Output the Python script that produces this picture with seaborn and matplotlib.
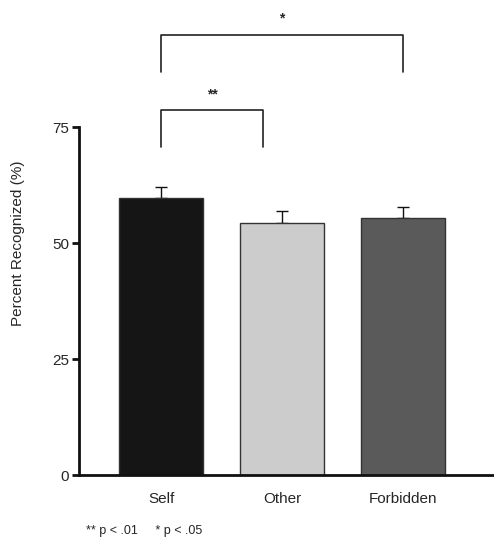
import matplotlib
matplotlib.use("Agg")
import matplotlib.pyplot as plt
import pandas as pd
import seaborn as sns

conditions = ["Self", "Other", "Forbidden"]
means = [59.8, 54.4, 55.3]
sems = [2.3, 2.4, 2.4]
bar_colors = ["#151515", "#cccccc", "#5a5a5a"]
yticks = [0, 25, 50, 75]

sns.set_theme(style="white")
plt.rcParams["font.family"] = ["Liberation Sans", "DejaVu Sans"]

df = pd.DataFrame({"condition": conditions, "mean": means})

fig = plt.figure(figsize=(4.94, 5.38), dpi=100)
ax = fig.add_axes([0.16, 0.117, 0.84, 0.8625])

sns.barplot(data=df, x="condition", y="mean", hue="condition",
            palette=bar_colors, width=0.69, edgecolor="#333333",
            linewidth=1.0, legend=False, ax=ax, errorbar=None, zorder=2)

# only the upper half of the error bars (lower cap hidden behind bar)
ax.errorbar(range(len(conditions)), means, yerr=[[0] * 3, sems],
            fmt="none", ecolor="#111111", elinewidth=1.0, capsize=4,
            capthick=1.0, zorder=1)

# significance brackets
def bracket(x0, x1, y_low, y_top, label, label_y):
    ax.plot([x0, x0, x1, x1], [y_low, y_top, y_top, y_low],
            color="#222222", linewidth=1.2, clip_on=False)
    ax.text((x0 + x1) / 2, label_y, label, ha="center", va="center",
            fontsize=10, fontweight="bold")

bracket(0, 0.84, 70.7, 78.7, "**", 82.1)
bracket(0, 2.0, 86.9, 94.8, "*", 98.4)

ax.set_xlim(-0.678, 2.75)
ax.set_ylim(0, 100)
ax.set_yticks(yticks)
ax.set_yticklabels([str(t) for t in yticks], fontsize=11)
ax.set_xticks(range(len(conditions)))
ax.set_xticklabels(conditions, fontsize=11)
ax.set_xlabel("")
ax.set_ylabel("Percent Recognized (%)", fontsize=11, labelpad=20)

for side in ["top", "right"]:
    ax.spines[side].set_visible(False)
ax.spines["left"].set_bounds(0, 75)
ax.spines["left"].set_linewidth(2)
ax.spines["bottom"].set_linewidth(2)
ax.spines["left"].set_color("#111111")
ax.spines["bottom"].set_color("#111111")
ax.tick_params(axis="y", left=True, length=5, width=2, color="#111111",
               direction="out", pad=2)
ax.tick_params(axis="x", bottom=False, pad=6)

fig.text(0.174, 0.013, "** p < .01     * p < .05", fontsize=9, ha="left",
         va="center")

fig.savefig("out.png", dpi=100)
